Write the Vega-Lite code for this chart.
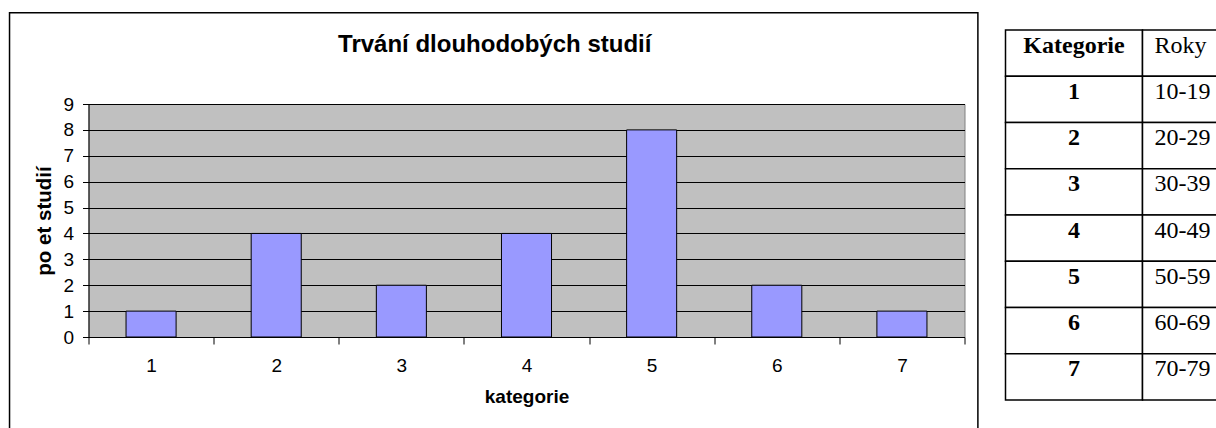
{
  "$schema": "https://vega.github.io/schema/vega-lite/v6.json",
  "background": "white",
  "padding": {"left": 7.5, "top": 11, "right": 0, "bottom": 0},
  "config": {"font": "Liberation Sans", "concat": {"spacing": 25}},
  "hconcat": [
    {
      "width": 876,
      "height": 233,
      "view": {"fill": "#c0c0c0", "stroke": "#808080", "strokeWidth": 1},
      "resolve": {"scale": {"x": "independent", "y": "independent"}},
      "layer": [
        {
          "data": {"values": [
            {"kategorie": "1", "pocet": 1},
            {"kategorie": "2", "pocet": 4},
            {"kategorie": "3", "pocet": 2},
            {"kategorie": "4", "pocet": 4},
            {"kategorie": "5", "pocet": 8},
            {"kategorie": "6", "pocet": 2},
            {"kategorie": "7", "pocet": 1}
          ]},
          "mark": {"type": "bar", "fill": "#9999ff", "stroke": "black", "strokeWidth": 1, "width": {"band": 0.4}},
          "encoding": {
            "x": {"field": "kategorie", "type": "ordinal", "scale": {"paddingInner": 0, "paddingOuter": 0},
              "axis": {"title": "kategorie", "labelAngle": 0, "tickBand": "extent", "tickSize": 7, "labelPadding": 12, "labelFontSize": 19, "labelColor": "black", "titleFontSize": 19, "titleFontWeight": "bold", "titleColor": "black", "titlePadding": 12.5, "domainColor": "black", "tickColor": "black", "grid": false}},
            "y": {"field": "pocet", "type": "quantitative", "scale": {"domain": [0, 9], "nice": false},
              "axis": {"title": "po et studií", "values": [0, 1, 2, 3, 4, 5, 6, 7, 8, 9], "labelOverlap": false, "tickSize": 6, "labelPadding": 9, "labelFontSize": 19, "labelColor": "black", "titleFontSize": 20.5, "titleFontWeight": "bold", "titleColor": "black", "titlePadding": 8, "domainColor": "black", "tickColor": "black", "grid": true, "gridColor": "black", "gridOpacity": 1}}
          }
        },
        {
          "data": {"values": [{"frame": "outer"}]},
          "mark": {"type": "rect", "fill": null, "stroke": "black", "strokeWidth": 1.5, "clip": false},
          "encoding": {
            "x": {"datum": -0.131, "type": "quantitative", "scale": {"domain": [0.5, 7.5], "nice": false, "zero": false}, "axis": null},
            "x2": {"datum": 7.607},
            "y": {"datum": 12.527, "type": "quantitative", "scale": {"domain": [0, 9], "nice": false}, "axis": null},
            "y2": {"datum": -4.5}
          }
        },
        {
          "data": {"values": [{"title": "Trvání dlouhodobých studií"}]},
          "mark": {"type": "text", "font": "Liberation Sans", "fontSize": 24, "fontWeight": "bold", "color": "black", "align": "center", "baseline": "alphabetic", "clip": false},
          "encoding": {
            "text": {"field": "title"},
            "x": {"datum": 3.746, "type": "quantitative", "scale": {"domain": [0.5, 7.5], "nice": false, "zero": false}, "axis": null},
            "y": {"datum": 11.02, "type": "quantitative", "scale": {"domain": [0, 9], "nice": false}, "axis": null}
          }
        }
      ]
    },
    {
      "width": 274,
      "height": 233,
      "view": {"stroke": null},
      "data": {"values": [
        {"r": "h", "k": "Kategorie", "roky": "Roky"},
        {"r": "1", "k": "1", "roky": "10-19"},
        {"r": "2", "k": "2", "roky": "20-29"},
        {"r": "3", "k": "3", "roky": "30-39"},
        {"r": "4", "k": "4", "roky": "40-49"},
        {"r": "5", "k": "5", "roky": "50-59"},
        {"r": "6", "k": "6", "roky": "60-69"},
        {"r": "7", "k": "7", "roky": "70-79"}
      ]},
      "transform": [{"fold": ["k", "roky"], "as": ["col", "txt"]}],
      "encoding": {
        "y": {"field": "r", "type": "ordinal", "scale": {"domain": ["h", "1", "2", "3", "4", "5", "6", "7"], "range": [-74, 296], "paddingInner": 0, "paddingOuter": 0}, "axis": null}
      },
      "layer": [
        {
          "mark": {"type": "rect", "fill": "white", "stroke": "black", "strokeWidth": 1.5},
          "encoding": {
            "x": {"field": "col", "type": "nominal", "scale": {"domain": ["k", "roky"], "paddingInner": 0, "paddingOuter": 0}, "axis": null}
          }
        },
        {
          "transform": [{"filter": "datum.col == 'k'"}],
          "mark": {"type": "text", "font": "Liberation Serif", "fontSize": 24, "fontWeight": "bold", "align": "center", "baseline": "alphabetic", "dy": 22.5, "color": "black"},
          "encoding": {
            "x": {"field": "col", "type": "nominal"},
            "y": {"field": "r", "type": "ordinal", "bandPosition": 0},
            "text": {"field": "txt"}
          }
        },
        {
          "transform": [{"filter": "datum.col == 'roky'"}],
          "mark": {"type": "text", "font": "Liberation Serif", "fontSize": 24, "fontWeight": "normal", "align": "left", "baseline": "alphabetic", "dx": 12, "dy": 22.5, "color": "black"},
          "encoding": {
            "x": {"field": "col", "type": "nominal", "bandPosition": 0},
            "y": {"field": "r", "type": "ordinal", "bandPosition": 0},
            "text": {"field": "txt"}
          }
        }
      ]
    }
  ]
}
